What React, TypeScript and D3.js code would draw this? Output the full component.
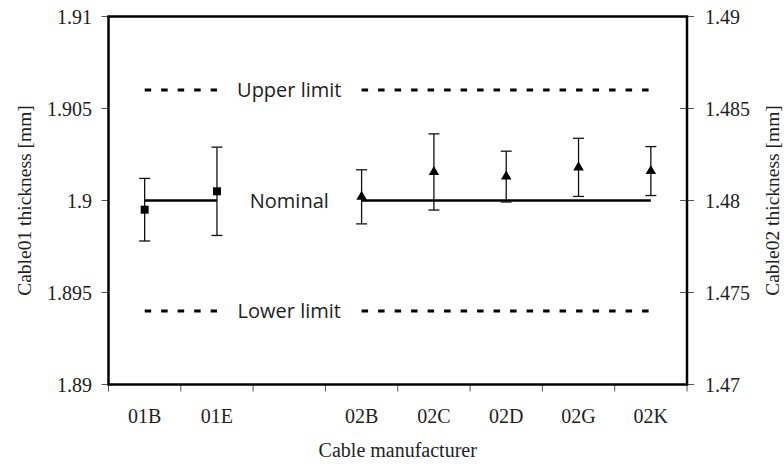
import * as d3 from "d3";

// categories along the x axis ("" is the empty slot between the two cable types)
const categories = ["01B", "01E", "", "02B", "02C", "02D", "02G", "02K"];

const cable01Makers = ["01B", "01E"];
const cable01Mean = [1.8995, 1.9005];
const cable01Err = [0.0017, 0.0024];

const cable02Makers = ["02B", "02C", "02D", "02G", "02K"];
const cable02Mean = [1.4802, 1.48155, 1.4813, 1.4818, 1.4816];
const cable02Err = [0.00147, 0.00207, 0.00138, 0.00158, 0.00133];

const cable01Limits = { nominal: 1.9, upper: 1.906, lower: 1.894 };
const cable02Limits = { nominal: 1.48, upper: 1.486, lower: 1.474 };

const leftTicks = [1.89, 1.895, 1.9, 1.905, 1.91];
const rightTicks = [1.47, 1.475, 1.48, 1.485, 1.49];

const W = 784;
const H = 464;
const plot = { left: 108.5, right: 687, top: 16.5, bottom: 384.5 };
const serif = "'Liberation Serif', 'Times New Roman', serif";
const sans = "'Open Sans', 'Noto Sans', sans-serif";

export default function App() {
  const x = d3.scaleBand<string>().domain(categories).range([plot.left, plot.right]).padding(0);
  const cx = (c: string) => (x(c) ?? 0) + x.bandwidth() / 2;
  const yL = d3.scaleLinear().domain([1.89, 1.91]).range([plot.bottom, plot.top]);
  const yR = d3.scaleLinear().domain([1.47, 1.49]).range([plot.bottom, plot.top]);

  const boundaries = categories.map((c) => x(c) ?? 0).concat([plot.right]);
  const gapX = cx("");

  const refLine = (
    makers: string[],
    y: number,
    dashed: boolean,
    key: string
  ) => (
    <line
      key={key}
      x1={cx(makers[0])}
      x2={cx(makers[makers.length - 1])}
      y1={y}
      y2={y}
      stroke="#000"
      strokeWidth={dashed ? 3 : 2.5}
      strokeDasharray={dashed ? "6.5,10" : undefined}
    />
  );

  const errorBar = (xc: number, yTop: number, yBot: number, key: string) => (
    <g key={key} stroke="#111" strokeWidth={1.3}>
      <line x1={xc} x2={xc} y1={yTop} y2={yBot} />
      <line x1={xc - 5.5} x2={xc + 5.5} y1={yTop} y2={yTop} />
      <line x1={xc - 5.5} x2={xc + 5.5} y1={yBot} y2={yBot} />
    </g>
  );

  const tri = d3.symbol(d3.symbolTriangle, 48)() ?? "";

  return (
    <svg
      width={W}
      height={H}
      style={{ position: "absolute", left: 0, top: 0, background: "#fff" }}
    >
      <rect width={W} height={H} fill="#fff" />

      {/* left ticks */}
      {leftTicks.map((t) => (
        <g key={"l" + t}>
          <line x1={plot.left - 7} x2={plot.left} y1={yL(t)} y2={yL(t)} stroke="#555" strokeWidth={1} />
          <text x={92} y={yL(t)} dy="0.35em" textAnchor="end" fontFamily={serif} fontSize={20} fill="#222">
            {d3.format("")(t)}
          </text>
        </g>
      ))}

      {/* right ticks */}
      {rightTicks.map((t) => (
        <g key={"r" + t}>
          <line x1={plot.right - 7} x2={plot.right + 7} y1={yR(t)} y2={yR(t)} stroke="#555" strokeWidth={1} />
          <text x={705} y={yR(t)} dy="0.35em" textAnchor="start" fontFamily={serif} fontSize={20} fill="#222">
            {d3.format("")(t)}
          </text>
        </g>
      ))}

      {/* bottom ticks and category labels */}
      {boundaries.map((b, i) => (
        <line key={"b" + i} x1={b} x2={b} y1={plot.bottom} y2={plot.bottom + 7} stroke="#555" strokeWidth={1} />
      ))}
      {categories.map((c) => (
        <text key={"c" + c} x={cx(c)} y={423} textAnchor="middle" fontFamily={serif} fontSize={20} fill="#222">
          {c}
        </text>
      ))}

      {/* frame */}
      <rect
        x={plot.left}
        y={plot.top}
        width={plot.right - plot.left}
        height={plot.bottom - plot.top}
        fill="none"
        stroke="#000"
        strokeWidth={2.5}
      />

      {/* reference lines */}
      {refLine(cable01Makers, yL(cable01Limits.upper), true, "u1")}
      {refLine(cable02Makers, yR(cable02Limits.upper), true, "u2")}
      {refLine(cable01Makers, yL(cable01Limits.lower), true, "d1")}
      {refLine(cable02Makers, yR(cable02Limits.lower), true, "d2")}
      {refLine(cable01Makers, yL(cable01Limits.nominal), false, "n1")}
      {refLine(cable02Makers, yR(cable02Limits.nominal), false, "n2")}

      <g fontFamily={sans} fontSize={20} fill="#222" textAnchor="middle">
        <text x={gapX} y={yL(cable01Limits.upper)} dy="0.36em">Upper limit</text>
        <text x={gapX} y={yL(cable01Limits.nominal)} dy="0.36em">Nominal</text>
        <text x={gapX} y={yL(cable01Limits.lower)} dy="0.36em">Lower limit</text>
      </g>

      {/* cable01: squares */}
      {cable01Makers.map((m, i) =>
        errorBar(cx(m), yL(cable01Mean[i] + cable01Err[i]), yL(cable01Mean[i] - cable01Err[i]), "e1" + m)
      )}
      {cable01Makers.map((m, i) => (
        <rect key={"s" + m} x={cx(m) - 4} y={yL(cable01Mean[i]) - 4} width={8} height={8} fill="#000" />
      ))}

      {/* cable02: triangles */}
      {cable02Makers.map((m, i) =>
        errorBar(cx(m), yR(cable02Mean[i] + cable02Err[i]), yR(cable02Mean[i] - cable02Err[i]), "e2" + m)
      )}
      {cable02Makers.map((m, i) => (
        <path key={"t" + m} d={tri} transform={`translate(${cx(m)},${yR(cable02Mean[i])})`} fill="#000" />
      ))}

      {/* axis titles */}
      <text
        transform={`translate(31,${(plot.top + plot.bottom) / 2}) rotate(-90)`}
        textAnchor="middle"
        fontFamily={serif}
        fontSize={19.5}
        fill="#222"
      >
        Cable01 thickness [mm]
      </text>
      <text
        transform={`translate(779,${(plot.top + plot.bottom) / 2}) rotate(-90)`}
        textAnchor="middle"
        fontFamily={serif}
        fontSize={19.5}
        fill="#222"
      >
        Cable02 thickness [mm]
      </text>
      <text x={(plot.left + plot.right) / 2} y={457} textAnchor="middle" fontFamily={serif} fontSize={20} fill="#222">
        Cable manufacturer
      </text>
    </svg>
  );
}
